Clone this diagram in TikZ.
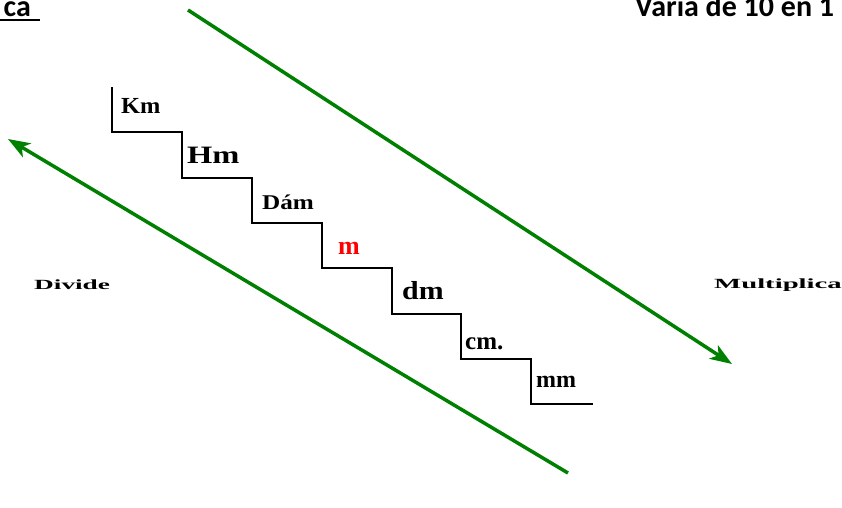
\documentclass[tikz,border=0pt]{standalone}
\usepackage{fontspec}
\setmainfont{Liberation Serif}
\newfontfamily\calibri{Carlito}
\usetikzlibrary{arrows.meta}
\definecolor{arrowgreen}{RGB}{0,128,0}
\definecolor{unitred}{RGB}{255,0,0}
\tikzset{
  stair/.style={draw=black,line width=1.4pt,line join=miter},
  garrow/.style={draw=arrowgreen,line width=3.5pt,-{Stealth[length=22pt,width=16pt,inset=6pt]}},
  unit/.style={anchor=base west,inner sep=0pt,font=\bfseries},
  side/.style={anchor=base west,inner sep=0pt,font=\bfseries\fontsize{14}{16}\selectfont},
  title/.style={inner sep=0pt,font=\calibri\bfseries\fontsize{30}{34}\selectfont}
}
\begin{document}
\begin{tikzpicture}[x=1pt,y=-1pt]
\useasboundingbox (0,0) rectangle (842,507);
\clip (0,0) rectangle (842,507);
% titles
\node[title,anchor=base east] (ttl) at (31,16) {ca};
\draw[line width=2.5pt] (0,20) -- (40,20);
\node[title,anchor=base west] (var) at (635,16) {Varía de 10 en 1};
% arrows
\coordinate (a1s) at (188,10);
\coordinate (a1e) at (732,364);
\coordinate (a2s) at (568,473);
\coordinate (a2e) at (8,139);
\draw[garrow] (a1s) -- (a1e);
\draw[garrow] (a2s) -- (a2e);
% staircase
\draw[stair] (112,87) |- (182,132) |- (252,178) |- (322,223) |- (392,268) |- (461,314) |- (531,359) |- (593,404);
% units
\node[unit,font=\bfseries\fontsize{23}{26}\selectfont] (km) at (121,113) {\scalebox{1.06}[1]{Km}};
\node[unit,font=\bfseries\fontsize{25}{28}\selectfont] (hm) at (187,163) {\scalebox{1.3}[1]{Hm}};
\node[unit,font=\bfseries\fontsize{21}{26}\selectfont] (dam) at (262,209) {\scalebox{1.2}[1]{Dám}};
\node[unit,text=unitred,font=\bfseries\fontsize{26}{28}\selectfont] (m) at (338,254) {m};
\node[unit,font=\bfseries\fontsize{26}{28}\selectfont] (dm) at (402,299) {\scalebox{1.15}[1]{dm}};
\node[unit,font=\bfseries\fontsize{25}{28}\selectfont] (cm) at (465,349) {cm.};
\node[unit,font=\bfseries\fontsize{24}{28}\selectfont] (mm) at (536,387) {mm};
% sides
\node[side] (div) at (34,289) {\scalebox{1.95}[1]{Divide}};
\node[side] (mul) at (714,288) {\scalebox{2.05}[1]{Multiplica}};
\end{tikzpicture}
\end{document}
